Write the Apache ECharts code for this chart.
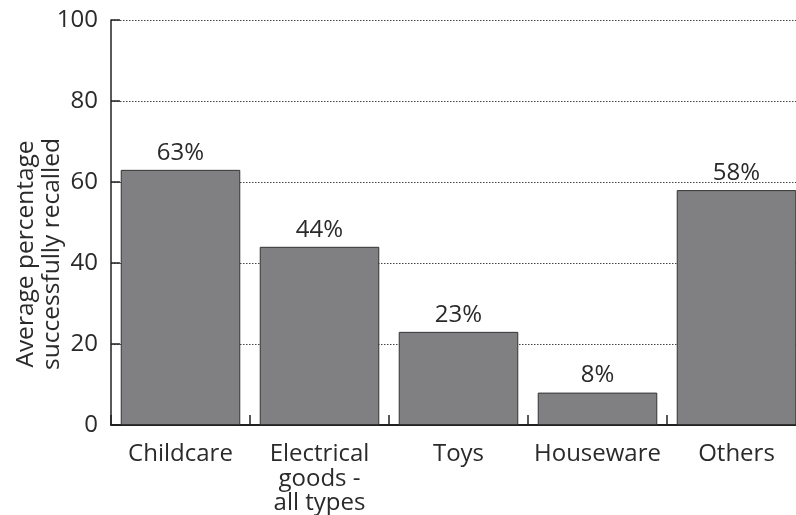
<!DOCTYPE html>
<html>
<head>
<meta charset="utf-8">
<script src="https://cdn.jsdelivr.net/npm/echarts@6/dist/echarts.min.js"></script>
<style>
html,body{margin:0;padding:0;background:#fff;}
#chart{width:796px;height:515px;}
</style>
</head>
<body>
<div id="chart"></div>
<script>
var categories = ['Childcare', 'Electrical\ngoods -\nall types', 'Toys', 'Houseware', 'Others'];
var values = [63, 44, 23, 8, 58];
var yTitle = 'Average percentage\nsuccessfully recalled';

var FONT = '"Open Sans", "Noto Sans", sans-serif';
var TXT = '#2a2a2a';

var chart = echarts.init(document.getElementById('chart'), null, {renderer: 'canvas'});
chart.setOption({
  backgroundColor: '#fff',
  animation: false,
  grid: {left: 111, top: 20, width: 695, height: 405, containLabel: false, outerBoundsMode: 'none'},
  xAxis: {
    type: 'category',
    data: categories,
    axisLine: {show: true, lineStyle: {color: '#222', width: 2}},
    axisTick: {show: true, inside: true, length: 10, lineStyle: {color: '#222', width: 1.5}},
    axisLabel: {interval: 0, fontFamily: FONT, fontSize: 24, lineHeight: 24.5, color: TXT, margin: 17},
    splitLine: {show: false}
  },
  yAxis: {
    type: 'value',
    min: 0, max: 100, interval: 20,
    axisLine: {show: true, lineStyle: {color: '#222', width: 1.5}},
    axisTick: {show: true, inside: true, length: 9, lineStyle: {color: '#222', width: 1.5}},
    axisLabel: {fontFamily: FONT, fontSize: 24, color: TXT, margin: 13},
    splitLine: {show: true, lineStyle: {color: '#444', type: [1.5, 1.5], width: 1}}
  },
  graphic: [{
    type: 'text',
    x: 39, y: 254,
    rotation: Math.PI / 2,
    style: {
      text: yTitle,
      fontFamily: FONT, fontSize: 24.5, lineHeight: 26,
      fill: TXT,
      textAlign: 'center', textVerticalAlign: 'middle'
    }
  }],
  series: [{
    type: 'bar',
    data: values,
    barCategoryGap: '14%',
    itemStyle: {color: '#808083', borderColor: '#333', borderWidth: 1},
    label: {show: true, position: 'top', distance: 5, formatter: '{c}%', fontFamily: FONT, fontSize: 24, color: TXT}
  }]
});
</script>
</body>
</html>
